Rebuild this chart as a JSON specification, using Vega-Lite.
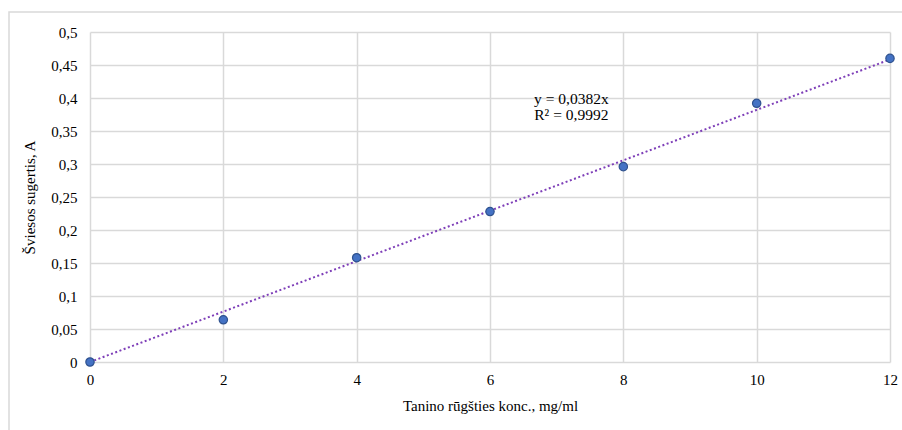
{
  "$schema": "https://vega.github.io/schema/vega-lite/v6.json",
  "width": 800,
  "height": 330,
  "autosize": {"type": "none"},
  "padding": {"left": 90, "top": 32, "right": 12, "bottom": 68},
  "background": "#ffffff",
  "config": {
    "view": {"stroke": null},
    "font": "Liberation Serif",
    "axis": {
      "labelFont": "Liberation Serif",
      "titleFont": "Liberation Serif",
      "labelFontSize": 15,
      "titleFontSize": 15,
      "labelColor": "#000000",
      "titleColor": "#000000",
      "titleFontWeight": "normal",
      "ticks": false,
      "domain": false,
      "grid": true,
      "labelFlush": false,
      "labelOverlap": false,
      "gridColor": "#D9D9D9",
      "gridWidth": 1.5
    }
  },
  "datasets": {
    "samples": [
      {"conc": 0, "absorb": 0},
      {"conc": 2, "absorb": 0.064},
      {"conc": 4, "absorb": 0.158},
      {"conc": 6, "absorb": 0.228},
      {"conc": 8, "absorb": 0.296},
      {"conc": 10, "absorb": 0.392},
      {"conc": 12, "absorb": 0.46}
    ],
    "trend": [
      {"conc": 0, "absorb": 0},
      {"conc": 12, "absorb": 0.4584}
    ],
    "equation": [
      {"conc": 7.22, "absorb": 0.399, "label": ["y = 0,0382x", "R² = 0,9992"]}
    ],
    "frame": [
      {"left": -1.215, "right": 14, "top": 0.5303, "bottom": -0.3}
    ]
  },
  "encoding": {
    "x": {
      "field": "conc", "type": "quantitative",
      "scale": {"domain": [0, 12], "nice": false},
      "axis": {
        "values": [0, 2, 4, 6, 8, 10, 12],
        "format": "d",
        "title": "Tanino rūgšties konc., mg/ml",
        "labelPadding": 10,
        "titlePadding": 11
      }
    },
    "y": {
      "field": "absorb", "type": "quantitative",
      "scale": {"domain": [0, 0.5], "nice": false},
      "axis": {
        "values": [0, 0.05, 0.1, 0.15, 0.2, 0.25, 0.3, 0.35, 0.4, 0.45, 0.5],
        "labelExpr": "replace(format(datum.value, '.2~f'), '.', ',')",
        "title": "Šviesos sugertis, A",
        "labelPadding": 13,
        "titlePadding": 13
      }
    }
  },
  "layer": [
    {
      "data": {"name": "frame"},
      "mark": {"type": "rect", "filled": false, "stroke": "#D9D9D9", "strokeWidth": 1.5, "clip": false},
      "encoding": {
        "x": {"field": "left", "type": "quantitative"},
        "x2": {"field": "right"},
        "y": {"field": "top", "type": "quantitative"},
        "y2": {"field": "bottom"}
      }
    },
    {
      "data": {"name": "trend"},
      "mark": {"type": "line", "color": "#7E3FB8", "strokeWidth": 2, "strokeDash": [2, 2.5], "strokeCap": "butt"}
    },
    {
      "data": {"name": "samples"},
      "mark": {"type": "point", "filled": true, "fill": "#4472C4", "stroke": "#2F528F", "strokeWidth": 1.2, "size": 70, "opacity": 1, "clip": false}
    },
    {
      "data": {"name": "equation"},
      "mark": {"type": "text", "font": "Liberation Serif", "fontSize": 15.5, "color": "#000000", "align": "center", "baseline": "middle", "lineHeight": 16},
      "encoding": {
        "text": {"field": "label"}
      }
    }
  ]
}
